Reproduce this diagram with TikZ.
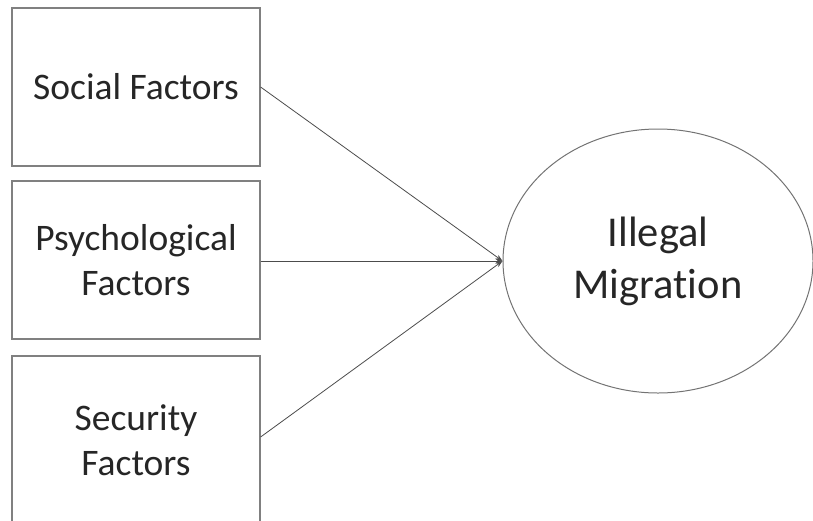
\documentclass[tikz,border=0pt]{standalone}
\usepackage{fontspec}
\setmainfont[Ligatures={NoCommon}]{Carlito}
\usetikzlibrary{arrows.meta,shapes.geometric}
\begin{document}
\begin{tikzpicture}[x=1pt,y=-1pt,
  factor/.style={draw=black!50,line width=1.2pt,minimum width=248pt,inner sep=0pt,align=center,font=\fontsize{37.5}{45}\selectfont,text=black!85},
  target/.style={draw=black!55,line width=1pt,ellipse,minimum width=310pt,minimum height=264pt,inner sep=0pt,align=center,font=\fontsize{42.5}{52}\selectfont,text=black!85},
  link/.style={draw=black!70,line width=0.8pt,-{Stealth[length=7pt,width=5pt]}}]
\useasboundingbox (0,0) rectangle (813,520);
\begin{scope}
\clip (0,0) rectangle (813,520);
\node[factor,minimum height=158pt] (soc) at (136,87) {Social Factors};
\node[factor,minimum height=158pt] (psy) at (136,260) {Psychological\\Factors};
\node[factor,minimum height=168pt] (sec) at (136,440) {Security\\Factors};
\node[target] (mig) at (658,261) {Illegal\\Migration};
\end{scope}
\coordinate (tip) at (mig.west);
\coordinate (secout) at ([yshift=3pt]sec.east);
\draw[link] (soc.east) -- (tip);
\draw[link] (psy.east |- tip) -- (tip);
\draw[link] (secout) -- (tip);
\end{tikzpicture}
\end{document}
